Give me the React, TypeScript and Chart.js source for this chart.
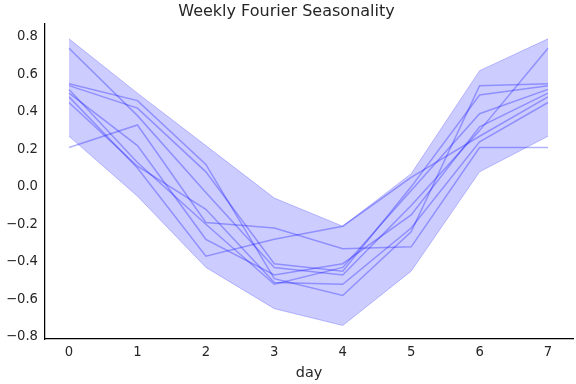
import React, { useEffect, useRef } from "react";
import { Chart, registerables } from "chart.js";

Chart.register(...registerables);

const days = [0, 1, 2, 3, 4, 5, 6, 7];
const xTickValues = [0, 1, 2, 3, 4, 5, 6, 7];
const yTickValues = [-0.8, -0.6, -0.4, -0.2, 0.0, 0.2, 0.4, 0.6, 0.8];

const bandUpper = [0.79, 0.5, 0.22, -0.06, -0.21, 0.07, 0.62, 0.79];
const bandLower = [0.27, -0.05, -0.43, -0.65, -0.74, -0.45, 0.08, 0.27];

const sample1 = [0.74, 0.38, -0.03, -0.43, -0.47, -0.1, 0.3, 0.74];
const sample2 = [0.55, 0.46, 0.12, -0.49, -0.58, -0.24, 0.54, 0.55];
const sample3 = [0.54, 0.42, 0.08, -0.41, -0.45, 0.0, 0.49, 0.54];
const sample4 = [0.52, 0.13, -0.2, -0.52, -0.43, -0.02, 0.39, 0.52];
const sample5 = [0.5, 0.22, -0.28, -0.47, -0.41, -0.15, 0.32, 0.5];
const sample6 = [0.48, 0.1, -0.37, -0.28, -0.21, 0.05, 0.27, 0.48];
const sample7 = [0.45, 0.11, -0.12, -0.51, -0.52, -0.22, 0.24, 0.45];
const sample8 = [0.21, 0.33, -0.19, -0.22, -0.33, -0.32, 0.21, 0.21];

const samples = [sample1, sample2, sample3, sample4, sample5, sample6, sample7, sample8];

const FONT = "'DejaVu Sans', sans-serif";
const TEXT = "#262626";

const toPts = (vals: number[]) => vals.map((v, i) => ({ x: days[i], y: v }));

export default function App() {
  const ref = useRef<HTMLCanvasElement | null>(null);
  useEffect(() => {
    if (!ref.current) return;
    const lineSets = samples.map((s) => ({
      data: toPts(s),
      borderColor: "rgba(0,0,255,0.3)",
      borderWidth: 1.5,
      pointRadius: 0,
      fill: false,
      tension: 0,
    }));
    const chart = new Chart(ref.current, {
      type: "line",
      data: {
        datasets: [
          ...lineSets,
          {
            data: toPts(bandUpper),
            borderColor: "rgba(0,0,255,0.22)",
            borderWidth: 1,
            backgroundColor: "rgba(0,0,255,0.2)",
            pointRadius: 0,
            fill: "+1",
            tension: 0,
          },
          {
            data: toPts(bandLower),
            borderColor: "rgba(0,0,255,0.22)",
            borderWidth: 1,
            pointRadius: 0,
            fill: false,
            tension: 0,
          },
        ] as any,
      },
      options: {
        animation: false,
        responsive: false,
        devicePixelRatio: 1,
        layout: { padding: { left: 0, right: 3, top: 0, bottom: 0 } },
        plugins: {
          legend: { display: false },
          tooltip: { enabled: false },
          title: {
            display: true,
            text: "Weekly Fourier Seasonality",
            color: TEXT,
            font: { family: FONT, size: 16, weight: "normal" },
            padding: { top: 2.4, bottom: 2.4 },
          },
        },
        scales: {
          x: {
            type: "linear",
            min: -0.351,
            max: 7.365,
            grid: { display: false, drawTicks: false },
            border: { display: true, color: "#000", width: 1.25 },
            afterBuildTicks: (s: any) => {
              s.ticks = xTickValues.map((v) => ({ value: v }));
            },
            afterFit: (s: any) => {
              s.height = 45;
            },
            ticks: {
              color: TEXT,
              font: { family: FONT, size: 13.2 },
              padding: 6,
              maxRotation: 0,
              callback: (v: any) => String(v),
            },
            title: {
              display: true,
              text: "day",
              color: TEXT,
              font: { family: FONT, size: 14.4 },
              padding: { top: 2, bottom: 2 },
            },
          },
          y: {
            type: "linear",
            min: -0.812,
            max: 0.869,
            grid: { display: false, drawTicks: false },
            border: { display: true, color: "#000", width: 1.25 },
            afterBuildTicks: (s: any) => {
              s.ticks = yTickValues.map((v) => ({ value: v }));
            },
            afterFit: (s: any) => {
              s.width = 45;
            },
            ticks: {
              color: TEXT,
              font: { family: FONT, size: 13.2 },
              padding: 7,
              callback: (v: any) => {
                const n = Number(v);
                const t = Math.abs(n).toFixed(1);
                return n < -1e-9 ? "\u2212" + t : t;
              },
            },
          },
        },
      },
    });
    return () => chart.destroy();
  }, []);
  return (
    <div style={{ position: "absolute", left: 0, top: 0, width: 576, height: 384, background: "#fff" }}>
      <canvas ref={ref} width={576} height={384} style={{ width: 576, height: 384 }} />
    </div>
  );
}
